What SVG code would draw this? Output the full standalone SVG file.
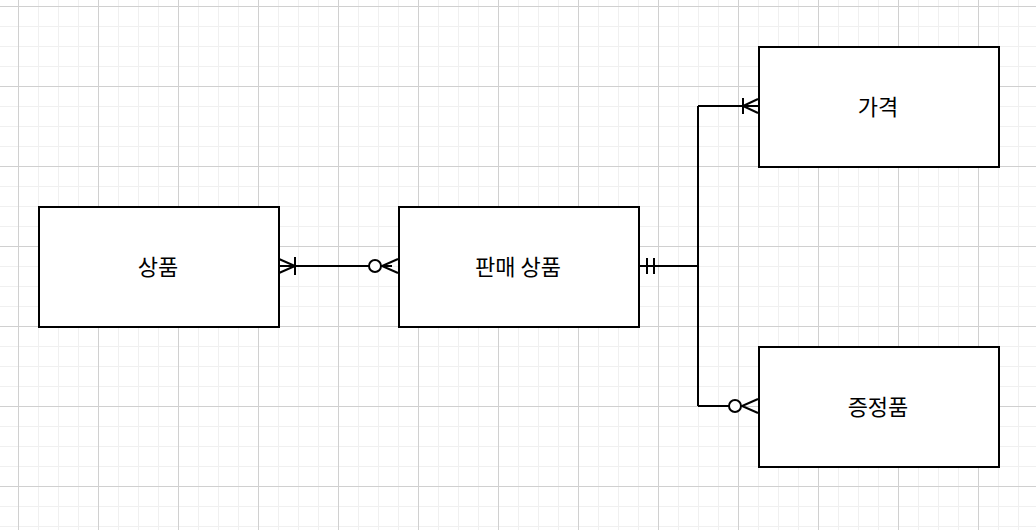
<svg xmlns="http://www.w3.org/2000/svg" width="1036" height="530" viewBox="0 0 1036 530">
<defs>
<pattern id="minor" width="20" height="20" patternUnits="userSpaceOnUse" x="-2" y="6">
<path d="M0 0.5H20M0.5 0V20" stroke="#f0f0f0" stroke-width="1" fill="none"/>
</pattern>
<pattern id="major" width="80" height="80" patternUnits="userSpaceOnUse" x="18" y="6">
<path d="M0 0.5H80M0.5 0V80" stroke="#d0d0d0" stroke-width="1" fill="none"/>
</pattern>
</defs>
<style>
.box{fill:#fff;stroke:#000;stroke-width:2}
.lbl{font-family:"Noto Sans CJK KR","Noto Sans",sans-serif;font-size:22px;fill:#000;text-anchor:middle;dominant-baseline:central}
.ln{fill:none;stroke:#000;stroke-width:2}
.circ{fill:#fff;stroke:#000;stroke-width:2}
</style>
<rect width="1036" height="530" fill="#fff"/>
<rect width="1036" height="530" fill="url(#minor)"/>
<rect width="1036" height="530" fill="url(#major)"/>
<g id="connectors">
<path class="ln" d="M279 266H392"/>
<path class="ln" d="M279 259L295 266L279 273M295 257V275"/>
<path class="ln" d="M398 259L382 266L398 273"/>
<circle class="circ" cx="375" cy="266" r="6"/>
<path class="ln" d="M639 266H698M698 106V406M698 106H758M698 406H729"/>
<path class="ln" d="M647 258V274M654 258V274"/>
<path class="ln" d="M758 99L743 106L758 113M743 98V114"/>
<path class="ln" d="M758 399L742 406L758 413"/>
<circle class="circ" cx="735" cy="406" r="6"/>
</g>
<g id="node-product">
<rect class="box" x="39" y="207" width="240" height="120"/>
<text class="lbl" x="158" y="265">상품</text>
</g>
<g id="node-sale-product">
<rect class="box" x="399" y="207" width="240" height="120"/>
<text class="lbl" x="518" y="265">판매 상품</text>
</g>
<g id="node-price">
<rect class="box" x="759" y="47" width="240" height="120"/>
<text class="lbl" x="878" y="105">가격</text>
</g>
<g id="node-gift">
<rect class="box" x="759" y="347" width="240" height="120"/>
<text class="lbl" x="878" y="405">증정품</text>
</g>
</svg>
